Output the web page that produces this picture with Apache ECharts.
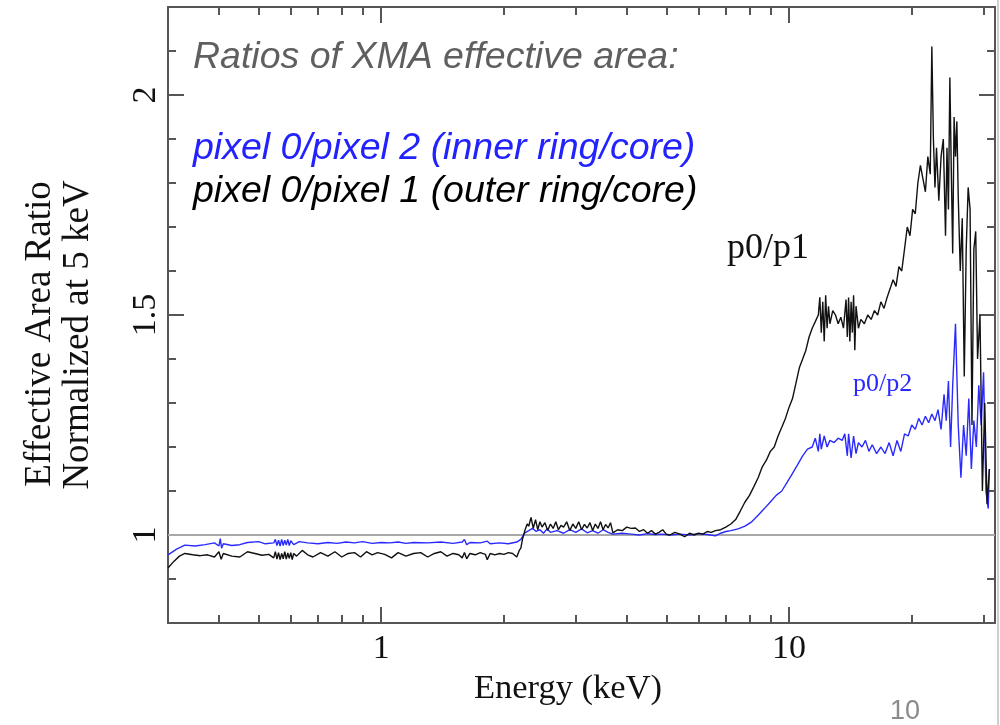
<!DOCTYPE html>
<html>
<head>
<meta charset="utf-8">
<script src="https://cdn.jsdelivr.net/npm/echarts@6/dist/echarts.min.js"></script>
<style>html,body{margin:0;padding:0;background:#fff;}#c{width:1000px;height:725px;}</style>
</head>
<body>
<div id="c"></div>
<script>
// ---- data (energy in keV, ratio normalized at 5 keV) ----
const energyP1 = [0.300,0.310,0.320,0.330,0.345,0.36,0.375,0.39,0.40,0.405,0.41,0.43,0.45,0.47,0.49,0.51,0.53,0.545,0.55,0.555,0.56,0.565,0.57,0.575,0.58,0.585,0.59,0.595,0.60,0.605,0.61,0.62,0.64,0.66,0.68,0.71,0.74,0.77,0.80,0.83,0.86,0.89,0.92,0.95,0.98,1.02,1.06,1.10,1.15,1.20,1.25,1.30,1.35,1.40,1.45,1.50,1.55,1.58,1.60,1.62,1.65,1.70,1.75,1.80,1.82,1.85,1.90,1.95,2.00,2.05,2.10,2.15,2.18,2.20,2.22,2.25,2.28,2.30,2.33,2.36,2.39,2.42,2.45,2.48,2.52,2.56,2.60,2.64,2.68,2.72,2.76,2.80,2.85,2.90,2.95,3.00,3.05,3.10,3.15,3.20,3.25,3.30,3.35,3.40,3.45,3.50,3.55,3.60,3.65,3.70,3.80,3.90,4.00,4.10,4.20,4.30,4.40,4.50,4.60,4.70,4.80,4.90,5.00,5.10,5.25,5.40,5.55,5.70,5.85,6.00,6.15,6.30,6.45,6.60,6.80,7.00,7.20,7.40,7.60,7.80,8.00,8.20,8.40,8.60,8.80,9.00,9.20,9.40,9.60,9.80,10.0,10.2,10.4,10.6,10.8,11.0,11.2,11.4,11.6,11.8,11.9,12.0,12.1,12.2,12.3,12.4,12.5,12.6,12.8,13.0,13.2,13.4,13.6,13.8,13.9,14.0,14.1,14.2,14.3,14.4,14.5,14.6,14.8,15.0,15.3,15.6,15.9,16.2,16.5,16.8,17.1,17.4,17.7,18.0,18.3,18.6,18.9,19.2,19.5,19.8,20.1,20.4,20.7,21.0,21.3,21.6,21.9,22.2,22.4,22.6,22.8,23.0,23.3,23.6,23.9,24.2,24.4,24.6,24.8,25.0,25.2,25.4,25.6,25.8,26.0,26.3,26.6,26.9,27.2,27.5,27.8,28.1,28.4,28.7,29.0,29.4,29.8,30.2,30.6,31.0];
const ratioP1 = [0.925,0.940,0.952,0.958,0.955,0.953,0.955,0.950,0.962,0.945,0.958,0.952,0.950,0.962,0.958,0.954,0.956,0.948,0.962,0.945,0.960,0.944,0.958,0.946,0.962,0.945,0.959,0.947,0.960,0.944,0.958,0.952,0.965,0.955,0.950,0.960,0.952,0.962,0.950,0.958,0.960,0.950,0.962,0.955,0.960,0.956,0.948,0.960,0.952,0.958,0.960,0.950,0.958,0.962,0.952,0.958,0.955,0.948,0.960,0.946,0.958,0.955,0.960,0.956,0.944,0.958,0.955,0.958,0.956,0.960,0.958,0.950,0.965,0.970,0.990,1.010,1.025,1.020,1.040,1.015,1.035,1.012,1.030,1.018,1.028,1.010,1.025,1.015,1.030,1.012,1.022,1.018,1.030,1.010,1.025,1.015,1.030,1.012,1.024,1.016,1.028,1.010,1.025,1.015,1.030,1.012,1.024,1.016,1.028,1.005,1.012,1.010,1.018,1.015,1.016,1.008,1.012,1.004,1.010,1.002,1.006,1.012,1.002,1.000,1.006,1.002,0.996,1.004,1.000,1.004,1.002,1.008,1.006,1.010,1.012,1.018,1.025,1.035,1.055,1.075,1.090,1.110,1.130,1.155,1.170,1.190,1.200,1.225,1.245,1.265,1.290,1.310,1.345,1.380,1.400,1.420,1.450,1.470,1.485,1.500,1.540,1.460,1.530,1.440,1.545,1.470,1.520,1.480,1.510,1.500,1.480,1.495,1.470,1.535,1.450,1.540,1.440,1.530,1.460,1.545,1.420,1.520,1.470,1.490,1.480,1.500,1.490,1.510,1.500,1.530,1.515,1.540,1.560,1.580,1.565,1.610,1.600,1.650,1.700,1.680,1.740,1.730,1.800,1.840,1.810,1.780,1.860,1.820,2.110,1.900,1.790,1.880,1.760,1.860,1.900,1.680,1.880,1.740,2.040,1.830,1.640,1.950,1.860,1.940,1.770,1.600,1.720,1.360,1.650,1.790,1.740,1.250,1.650,1.690,1.400,1.500,1.100,1.300,1.070,1.150];

const energyP2 = [0.300,0.315,0.33,0.35,0.37,0.39,0.40,0.403,0.406,0.41,0.43,0.45,0.47,0.50,0.52,0.545,0.55,0.555,0.56,0.565,0.57,0.575,0.58,0.585,0.59,0.595,0.60,0.61,0.63,0.66,0.70,0.74,0.78,0.82,0.86,0.90,0.95,1.00,1.05,1.10,1.15,1.20,1.30,1.40,1.50,1.58,1.60,1.62,1.65,1.75,1.82,1.85,1.95,2.05,2.15,2.20,2.25,2.30,2.35,2.40,2.45,2.50,2.55,2.60,2.70,2.80,2.90,3.00,3.10,3.20,3.30,3.40,3.50,3.60,3.70,3.90,4.10,4.30,4.50,4.70,4.90,5.10,5.40,5.70,6.00,6.30,6.60,6.80,7.00,7.20,7.50,7.80,8.10,8.40,8.70,9.00,9.30,9.60,9.90,10.2,10.5,10.8,11.1,11.4,11.6,11.8,11.9,12.0,12.2,12.4,12.6,12.9,13.2,13.5,13.7,13.9,14.0,14.2,14.4,14.6,14.8,15.1,15.4,15.7,16.0,16.4,16.8,17.2,17.6,18.0,18.4,18.8,19.2,19.6,20.0,20.4,20.8,21.2,21.6,22.0,22.4,22.8,23.2,23.6,24.0,24.3,24.6,24.9,25.2,25.6,26.0,26.4,26.8,27.2,27.6,28.0,28.4,28.8,29.2,29.6,30.0,30.4,30.8,31.0];
const ratioP2 = [0.955,0.968,0.977,0.975,0.978,0.982,0.975,0.992,0.970,0.980,0.976,0.978,0.983,0.985,0.980,0.982,0.990,0.976,0.988,0.975,0.990,0.976,0.988,0.977,0.990,0.976,0.987,0.978,0.985,0.982,0.980,0.983,0.981,0.984,0.982,0.985,0.981,0.983,0.982,0.984,0.981,0.983,0.982,0.984,0.981,0.984,0.990,0.978,0.983,0.982,0.986,0.980,0.982,0.980,0.984,0.990,1.005,1.010,1.015,1.008,1.012,1.004,1.014,1.006,1.010,1.004,1.012,1.006,1.014,1.005,1.010,1.004,1.012,1.006,1.002,1.004,1.002,1.000,1.003,1.001,1.002,1.000,1.002,1.000,1.003,1.001,0.998,1.004,1.008,1.010,1.014,1.020,1.030,1.045,1.060,1.075,1.090,1.100,1.120,1.140,1.160,1.180,1.195,1.200,1.220,1.190,1.230,1.195,1.225,1.200,1.215,1.210,1.220,1.215,1.230,1.180,1.230,1.175,1.225,1.185,1.210,1.200,1.215,1.190,1.205,1.185,1.200,1.185,1.210,1.180,1.215,1.190,1.230,1.225,1.250,1.240,1.265,1.250,1.270,1.255,1.275,1.260,1.285,1.240,1.320,1.260,1.350,1.200,1.340,1.480,1.250,1.130,1.250,1.180,1.310,1.150,1.260,1.200,1.340,1.250,1.370,1.100,1.060,1.150];

const xMajorTicks = [1, 10];
const xMinorTicks = [0.4,0.5,0.6,0.7,0.8,0.9,2,3,4,5,6,7,8,9,20,30];
const yMajorTicks = [1, 1.5, 2];
const refLevel = 1;

const titleText = 'Ratios of XMA effective area:';
const legendP2 = 'pixel 0/pixel 2 (inner ring/core)';
const legendP1 = 'pixel 0/pixel 1 (outer ring/core)';
const yName1 = 'Effective Area Ratio';
const yName2 = 'Normalized at 5 keV';
const xName = 'Energy (keV)';
const pageNo = '10';

// ---- chart ----
const serif = '"Liberation Serif", "DejaVu Serif", serif';
const sans = '"Liberation Sans", Arial, sans-serif';
const axisColor = '#555555';
const X_MIN = 0.3, X_MAX = 32, Y_MIN = 0.8, Y_MAX = 2.2;

function pairs(xs, ys) { return xs.map((x, i) => [x, ys[i]]); }

function xAx(pos, ticks, len, showLine, labels) {
  return {
    type: 'log', logBase: 10, min: X_MIN, max: X_MAX, position: pos,
    axisLine: { show: showLine, onZero: false, lineStyle: { color: axisColor, width: 2 } },
    axisTick: { show: true, inside: true, length: len, customValues: ticks, lineStyle: { color: axisColor, width: 2 } },
    axisLabel: labels ? { show: true, customValues: xMajorTicks, margin: 9, color: '#111', fontFamily: serif, fontSize: 34, formatter: v => String(Math.round(v)) } : { show: false },
    splitLine: { show: false }, minorTick: { show: false }
  };
}
function yAx(pos, major, showLine, labels) {
  const base = {
    type: 'value', min: Y_MIN, max: Y_MAX, interval: 0.1, position: pos,
    axisLine: { show: showLine, onZero: false, lineStyle: { color: axisColor, width: 2 } },
    axisTick: { show: true, inside: true, length: major ? 16 : 8, lineStyle: { color: axisColor, width: 2 } },
    axisLabel: { show: false },
    splitLine: { show: false }
  };
  if (major) base.axisTick.customValues = yMajorTicks;
  if (labels) base.axisLabel = { show: true, customValues: yMajorTicks, rotate: 90, margin: 5, color: '#111', fontFamily: serif, fontSize: 34, formatter: v => String(+v.toFixed(1)) };
  return base;
}

const chart = echarts.init(document.getElementById('c'), null, { renderer: 'canvas' });
chart.setOption({
  animation: false,
  backgroundColor: '#ffffff',
  grid: { left: 168, right: 5, top: 7, bottom: 102, containLabel: false },
  xAxis: [
    xAx('bottom', xMajorTicks, 16, true, true),
    xAx('bottom', xMinorTicks, 8, false, false),
    xAx('top', xMajorTicks, 16, true, false),
    xAx('top', xMinorTicks, 8, false, false)
  ],
  yAxis: [
    yAx('left', true, true, true),
    yAx('left', false, false, false),
    yAx('right', true, true, false),
    yAx('right', false, false, false)
  ],
  series: [
    { type: 'line', name: 'ref', xAxisIndex: 0, yAxisIndex: 0, showSymbol: false, silent: true,
      data: [[X_MIN, refLevel], [X_MAX, refLevel]], lineStyle: { color: '#a8a8a8', width: 2 } },
    { type: 'line', name: 'p0/p2', xAxisIndex: 0, yAxisIndex: 0, showSymbol: false,
      data: pairs(energyP2, ratioP2), lineStyle: { color: '#2a2aff', width: 1.4 }, itemStyle: { color: '#2a2aff' } },
    { type: 'line', name: 'p0/p1', xAxisIndex: 0, yAxisIndex: 0, showSymbol: false,
      data: pairs(energyP1, ratioP1), lineStyle: { color: '#111111', width: 1.4 }, itemStyle: { color: '#111' } }
  ],
  graphic: [
    { type: 'text', left: 193, top: 39, style: { text: titleText, fill: '#5f5f5f', font: 'italic 37.5px ' + sans } },
    { type: 'text', left: 193, top: 130, style: { text: legendP2, fill: '#2222ff', font: 'italic 37.5px ' + sans } },
    { type: 'text', left: 193, top: 173, style: { text: legendP1, fill: '#000000', font: 'italic 37.5px ' + sans } },
    { type: 'text', left: 727, top: 231, style: { text: 'p0/p1', fill: '#111', font: '36px ' + serif } },
    { type: 'text', left: 853, top: 371, style: { text: 'p0/p2', fill: '#2a2aff', font: '26px ' + serif } },
    { type: 'text', x: 40, y: 334, rotation: Math.PI / 2, style: { text: yName1, fill: '#111', font: '37px ' + serif, textAlign: 'center', textVerticalAlign: 'middle' } },
    { type: 'text', x: 78, y: 335, rotation: Math.PI / 2, style: { text: yName2, fill: '#111', font: '37px ' + serif, textAlign: 'center', textVerticalAlign: 'middle' } },
    { type: 'text', x: 568, y: 689, style: { text: xName, fill: '#111', font: '34.5px ' + serif, textAlign: 'center', textVerticalAlign: 'middle' } },
    { type: 'text', left: 890, top: 698, style: { text: pageNo, fill: '#8a8a8a', font: '27px ' + sans } },
    { type: 'line', shape: { x1: 998, y1: 0, x2: 998, y2: 725 }, style: { stroke: '#cfcfcf', lineWidth: 2 } }
  ]
});
</script>
</body>
</html>
